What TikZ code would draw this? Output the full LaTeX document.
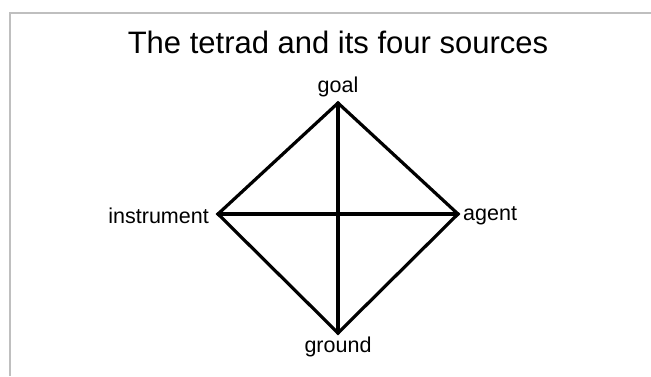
\documentclass[tikz,border=0pt]{standalone}
\usepackage{fontspec}
\setmainfont{Liberation Sans}
\begin{document}
\begin{tikzpicture}[x=1pt,y=-1pt,
  lbl/.style={inner sep=0pt, font=\fontsize{21.5}{24}\selectfont},
  edge/.style={line width=3.2pt, line join=miter, line cap=round}]
\useasboundingbox (0,0) rectangle (651,376);
\fill[white] (0,0) rectangle (651,376);
\draw[color=black!25, line width=1.5pt] (651,13) -- (10,13) -- (10,376);
\node[inner sep=0pt, font=\fontsize{31}{36}\selectfont] (title) at (338,42) {The tetrad and its four sources};
\coordinate (G) at (338,103);
\coordinate (B) at (338,333);
\coordinate (L) at (218,214);
\coordinate (R) at (458,214);
\draw[edge] (G) -- (R) -- (B) -- (L) -- cycle;
\draw[edge] (G) -- (B);
\draw[edge] (L) -- (R);
\node[lbl, anchor=south] (goal) at (338,97) {goal};
\node[lbl, anchor=east] (instr) at (209,216) {instrument};
\node[lbl, anchor=west] (agent) at (463,216) {agent};
\node[lbl, anchor=north] (ground) at (338,337) {ground};
\end{tikzpicture}
\end{document}
